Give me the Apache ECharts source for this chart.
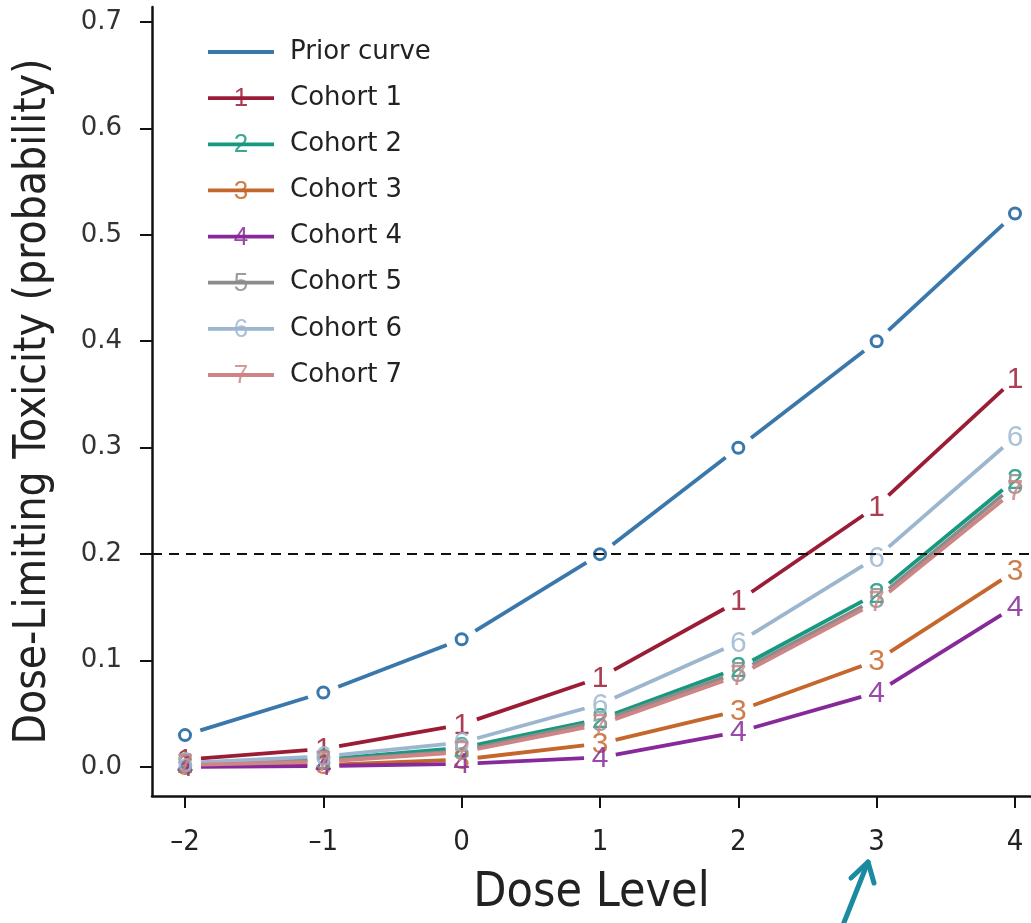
<!DOCTYPE html>
<html>
<head>
<meta charset="utf-8">
<script src="https://cdn.jsdelivr.net/npm/echarts@6/dist/echarts.min.js"></script>
<style>
  html, body { margin: 0; padding: 0; background: #fff; }
  #chart { width: 1031px; height: 923px; }
</style>
</head>
<body>
<div id="chart"></div>
<script>
// dose levels on the x axis
const doseLevels = [-2, -1, 0, 1, 2, 3, 4];
const yTicks = [0, 0.1, 0.2, 0.3, 0.4, 0.5, 0.6, 0.7];
const targetDLT = 0.2;

// probability of DLT per dose level
const priorCurve = [0.03, 0.07, 0.12, 0.20, 0.30, 0.40, 0.52];
const cohort1 = [0.007, 0.017, 0.040, 0.084, 0.156, 0.245, 0.365];
const cohort2 = [0.003, 0.007, 0.018, 0.045, 0.093, 0.163, 0.270];
const cohort3 = [0.001, 0.002, 0.007, 0.022, 0.053, 0.100, 0.184];
const cohort4 = [0.000, 0.001, 0.003, 0.009, 0.033, 0.070, 0.151];
const cohort5 = [0.003, 0.006, 0.015, 0.043, 0.089, 0.158, 0.265];
const cohort6 = [0.004, 0.010, 0.023, 0.059, 0.117, 0.197, 0.310];
const cohort7 = [0.002, 0.005, 0.014, 0.040, 0.086, 0.155, 0.260];

const seriesNames = ['Prior curve', 'Cohort 1', 'Cohort 2', 'Cohort 3', 'Cohort 4', 'Cohort 5', 'Cohort 6', 'Cohort 7'];
const seriesMarks = ['o', '1', '2', '3', '4', '5', '6', '7'];
const seriesValues = [priorCurve, cohort1, cohort2, cohort3, cohort4, cohort5, cohort6, cohort7];
const seriesColors = ['#3a78ab', '#9b1d35', '#17997f', '#c5662c', '#87299a', '#8c8c8c', '#9cb6cf', '#cf8585'];

const GAP = 16; // gap round each point, like R type="b"
const MARK_FONT = '30px "Liberation Sans", Arial, sans-serif';
const NARROW = '"Liberation Sans Narrow", "DejaVu Sans Condensed", sans-serif';

function makeRenderer(values, mark, color) {
  return function (params, api) {
    const i = params.dataIndex;
    const p = api.coord([api.value(0), api.value(1)]);
    const children = [];
    if (i < values.length - 1) {
      const q = api.coord([doseLevels[i + 1], values[i + 1]]);
      const dx = q[0] - p[0], dy = q[1] - p[1];
      const len = Math.sqrt(dx * dx + dy * dy);
      const ux = dx / len, uy = dy / len;
      children.push({
        type: 'line',
        shape: { x1: p[0] + ux * GAP, y1: p[1] + uy * GAP, x2: q[0] - ux * GAP, y2: q[1] - uy * GAP },
        style: { stroke: color, lineWidth: 3.8 }
      });
    }
    if (mark === 'o') {
      children.push({ type: 'circle', shape: { cx: p[0], cy: p[1], r: 5.5 }, style: { fill: '#fff', stroke: color, lineWidth: 3 } });
    } else {
      children.push({
        type: 'text', x: p[0], y: p[1] + 1,
        style: { text: mark, fill: color, font: MARK_FONT, align: 'center', verticalAlign: 'middle', opacity: 0.85 }
      });
    }
    return { type: 'group', children: children };
  };
}

const series = seriesValues.map((vals, k) => {
  const s = {
    name: seriesNames[k],
    type: 'custom',
    coordinateSystem: 'cartesian2d',
    itemStyle: { color: seriesColors[k] },
    renderItem: makeRenderer(vals, seriesMarks[k], seriesColors[k]),
    data: vals.map((v, i) => [doseLevels[i], v]),
    silent: true
  };
  if (k === 0) {
    s.markLine = {
      silent: true,
      symbol: ['none', 'none'],
      label: { show: false },
      lineStyle: { color: '#111', width: 2, type: [10, 7] },
      data: [{ yAxis: targetDLT }]
    };
  }
  return s;
});

// legend row positions
const LEGEND_TOP = 52, LEGEND_STEP = 46.14;
const legendDigits = seriesMarks.slice(1).map((m, k) => ({
  type: 'text',
  x: 241, y: LEGEND_TOP + LEGEND_STEP * (k + 1) + 1,
  style: { text: m, fill: seriesColors[k + 1], font: '26px "Liberation Sans", Arial, sans-serif', align: 'center', verticalAlign: 'middle', opacity: 0.85 },
  z: 100
}));

const chart = echarts.init(document.getElementById('chart'));
chart.setOption({
  animation: false,
  backgroundColor: '#fff',
  grid: { left: 152, right: 0, top: 7, bottom: 126 },
  xAxis: {
    type: 'value',
    min: -2.2386,
    max: 4.1157,
    name: 'Dose Level',
    nameLocation: 'middle',
    nameGap: 74,
    nameTextStyle: { fontSize: 48, color: '#222', fontFamily: NARROW, verticalAlign: 'top' },
    axisLine: { onZero: false, lineStyle: { color: '#111', width: 2.5 } },
    axisTick: { customValues: doseLevels, length: 12, lineStyle: { color: '#111', width: 2 } },
    axisLabel: {
      customValues: doseLevels,
      margin: 32,
      fontSize: 29,
      color: '#222',
      fontFamily: NARROW,
      formatter: v => (v < 0 ? '\u2013' + Math.abs(v) : String(v))
    },
    splitLine: { show: false }
  },
  yAxis: {
    type: 'value',
    min: -0.0272,
    max: 0.714,
    name: 'Dose-Limiting Toxicity (probability)',
    nameLocation: 'middle',
    nameGap: 96,
    nameTextStyle: { fontSize: 44, color: '#222', fontFamily: NARROW },
    axisLine: { onZero: false, lineStyle: { color: '#111', width: 2.5 } },
    axisTick: { customValues: yTicks, length: 12, lineStyle: { color: '#111', width: 2 } },
    axisLabel: {
      customValues: yTicks,
      margin: 30,
      fontSize: 26,
      color: '#333',
      fontFamily: '"DejaVu Sans", sans-serif',
      formatter: v => v.toFixed(1)
    },
    splitLine: { show: false }
  },
  legend: {
    orient: 'vertical',
    left: 208,
    top: LEGEND_TOP - 14,
    padding: 0,
    itemWidth: 66,
    itemHeight: 3.8,
    itemGap: LEGEND_STEP - 28,
    selectedMode: false,
    textStyle: { fontSize: 26, lineHeight: 28, color: '#222', fontFamily: '"DejaVu Sans", sans-serif', padding: [0, 0, 0, 11] },
    data: seriesNames.map((n, k) => ({ name: n, icon: 'rect', itemStyle: { color: seriesColors[k] } }))
  },
  graphic: legendDigits.concat([
    {
      type: 'polyline',
      shape: { points: [[843, 925], [868, 862]] },
      style: { stroke: '#1a8aa0', lineWidth: 5, lineCap: 'round', fill: null },
      z: 100
    },
    {
      type: 'polyline',
      shape: { points: [[851, 878], [868, 862], [874, 883]] },
      style: { stroke: '#1a8aa0', lineWidth: 5, lineCap: 'round', lineJoin: 'round', fill: null },
      z: 100
    }
  ]),
  series: series
});
</script>
</body>
</html>
